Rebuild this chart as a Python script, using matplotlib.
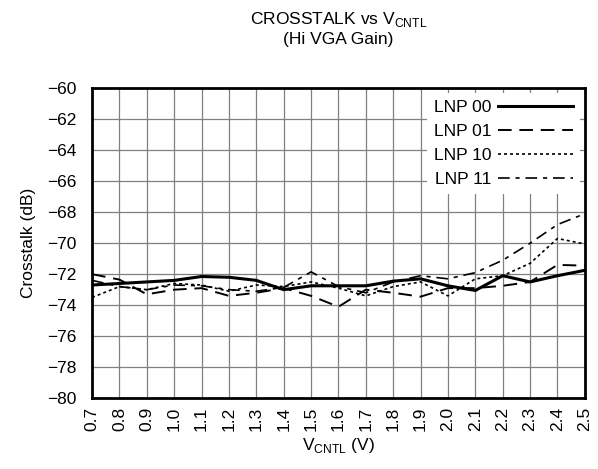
import numpy as np
import matplotlib.pyplot as plt

plt.rcParams['font.family'] = ['Liberation Sans', 'DejaVu Sans']

# control voltage (V)
vcntl = np.round(np.arange(0.7, 2.51, 0.1), 1)

# crosstalk (dB) per LNP setting
lnp00 = [-72.7, -72.6, -72.5, -72.4, -72.15, -72.2, -72.4, -73.0, -72.75, -72.75,
         -72.75, -72.45, -72.3, -72.75, -73.05, -72.1, -72.5, -72.1, -71.75]
lnp01 = [-72.0, -72.35, -73.3, -73.0, -72.9, -73.4, -73.2, -72.9, -73.4, -74.1,
         -73.0, -73.2, -73.45, -72.9, -72.9, -72.75, -72.5, -71.4, -71.45]
lnp10 = [-73.5, -72.8, -73.0, -72.6, -72.7, -73.1, -72.7, -72.8, -72.5, -72.9,
         -73.4, -72.8, -72.5, -73.4, -72.3, -72.1, -71.3, -69.7, -70.05]
lnp11 = [-72.4, -72.8, -73.0, -72.7, -72.75, -73.0, -73.1, -72.85, -71.85, -72.8,
         -73.2, -72.5, -72.1, -72.3, -71.9, -71.1, -70.0, -68.8, -68.1]

labels = ['LNP 00', 'LNP 01', 'LNP 10', 'LNP 11']
xticks = vcntl
yticks = np.arange(-80, -59, 2)

fig = plt.figure(figsize=(5.98, 4.69), dpi=100)
ax = fig.add_axes([0.154, 0.151, 0.824, 0.661])

ax.plot(vcntl, lnp00, color='black', lw=2.2, label=labels[0])
ax.plot(vcntl, lnp01, color='black', lw=1.4, dashes=(7, 4), label=labels[1])
ax.plot(vcntl, lnp10, color='black', lw=1.2, dashes=(1.8, 1.8), label=labels[2])
ax.plot(vcntl, lnp11, color='black', lw=1.2, dashes=(7, 3.5, 2.5, 3.5), label=labels[3])

ax.set_xlim(0.7, 2.5)
ax.set_ylim(-80, -60)
ax.set_xticks(xticks)
ax.set_xticklabels([f'{v:.1f}' for v in xticks], rotation=90)
ax.set_yticks(yticks)
ax.set_yticklabels([f'\u2212{abs(v)}' for v in yticks])
ax.tick_params(length=0, labelsize=12.5)
ax.tick_params(axis='y', pad=11)
ax.tick_params(axis='x', pad=6)
ax.grid(True, color='#808080', lw=0.9)
for s in ax.spines.values():
    s.set_linewidth(2)
    s.set_color('black')

ax.set_xlabel('V$_{\\mathregular{CNTL}}$ (V)', fontsize=12.5, labelpad=4)
ax.set_ylabel('Crosstalk (dB)', fontsize=12.5, labelpad=8)
ax.set_title('CROSSTALK vs V$_{\\mathregular{CNTL}}$\n(Hi VGA Gain)', fontsize=12.5,
             pad=32, linespacing=1.25)

leg = ax.legend(loc='upper right', markerfirst=False, handlelength=4.3,
                frameon=True, fancybox=False, fontsize=12.5, borderaxespad=0.3,
                labelspacing=0.5, handletextpad=0.4)
leg.get_frame().set_edgecolor('none')
leg.get_frame().set_facecolor('white')
leg.get_frame().set_alpha(1)

fig.savefig('out.png', dpi=100)
